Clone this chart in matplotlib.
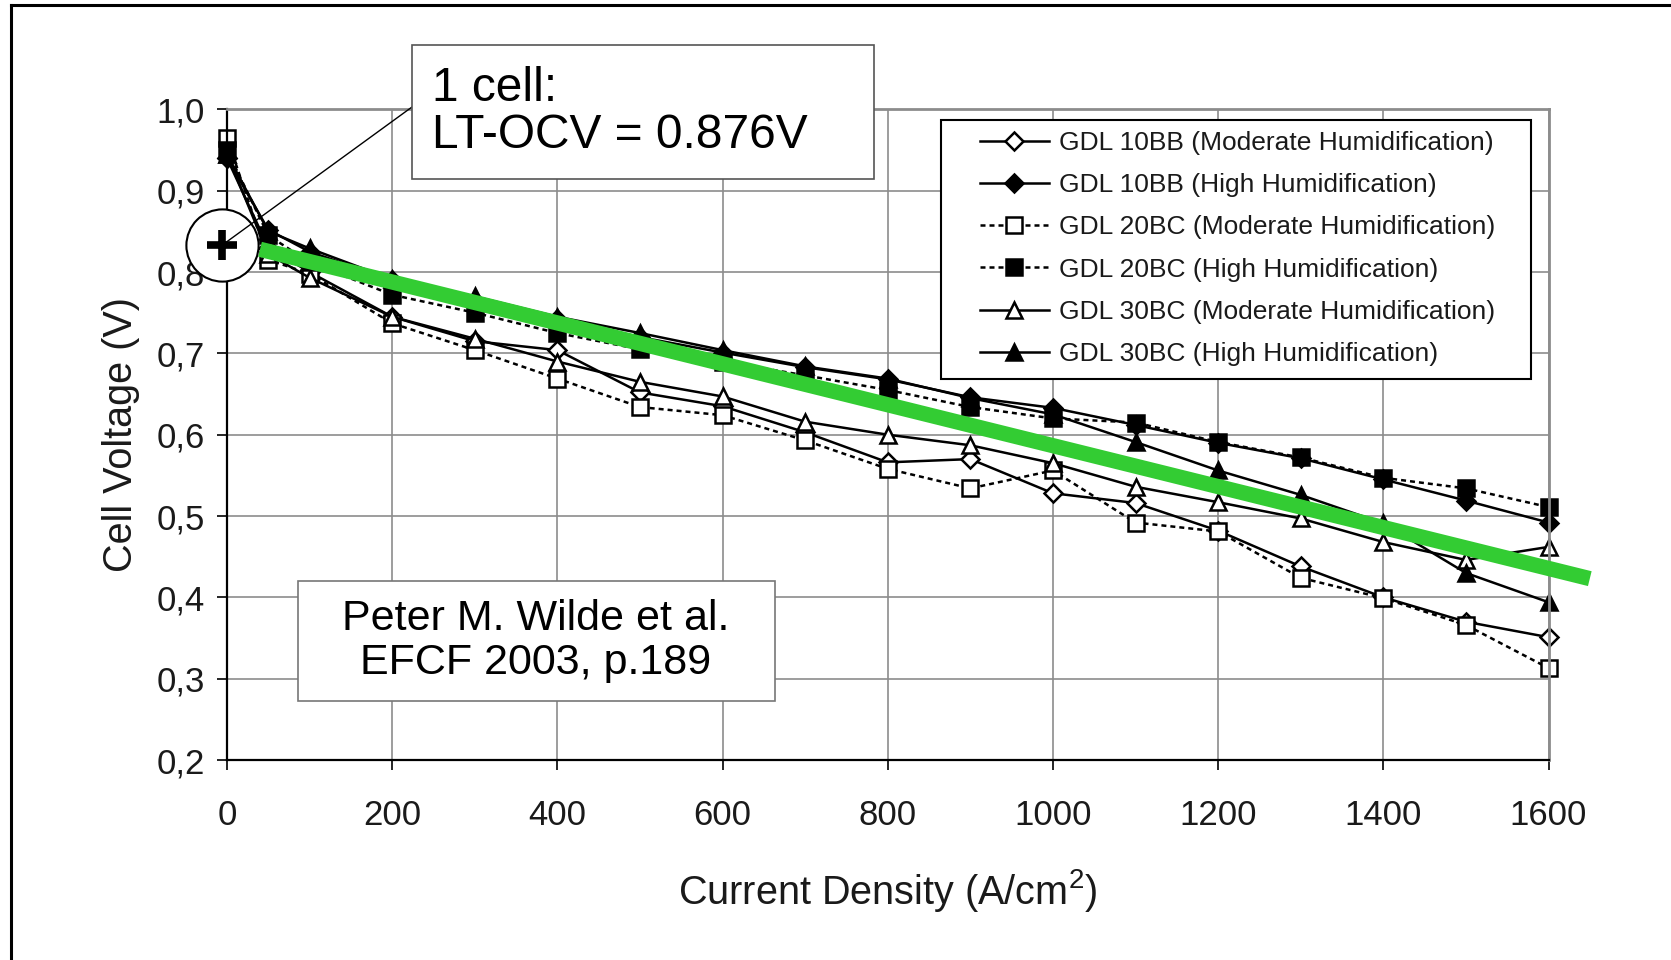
import matplotlib
matplotlib.use("Agg")
import matplotlib.pyplot as plt
from matplotlib.patches import Rectangle, ConnectionPatch
from matplotlib.lines import Line2D

plt.rcParams['font.family'] = ['Liberation Sans', 'DejaVu Sans']
plt.rcParams['mathtext.default'] = 'regular'

# ---------------- data ----------------
current = [0, 50, 100, 200, 300, 400, 500, 600, 700, 800, 900, 1000,
           1100, 1200, 1300, 1400, 1500, 1600]

gdl10bb_mod = [0.940, 0.830, 0.800, 0.745, 0.715, 0.704, 0.652, 0.635, 0.603, 0.566, 0.570, 0.528,
               0.516, 0.482, 0.438, 0.400, 0.370, 0.351]
gdl10bb_high = [0.940, 0.852, 0.825, 0.790, 0.765, 0.742, 0.720, 0.701, 0.683, 0.668, 0.646, 0.633,
                0.612, 0.590, 0.571, 0.545, 0.519, 0.492]
gdl20bc_mod = [0.965, 0.815, 0.798, 0.737, 0.704, 0.669, 0.634, 0.624, 0.593, 0.558, 0.534, 0.556,
               0.492, 0.481, 0.424, 0.399, 0.366, 0.313]
gdl20bc_high = [0.950, 0.845, 0.812, 0.772, 0.750, 0.725, 0.705, 0.690, 0.673, 0.655, 0.634, 0.620,
                0.615, 0.591, 0.572, 0.547, 0.534, 0.511]
gdl30bc_mod = [0.945, 0.822, 0.793, 0.745, 0.718, 0.690, 0.665, 0.647, 0.616, 0.600, 0.587, 0.565,
               0.536, 0.517, 0.497, 0.468, 0.446, 0.462]
gdl30bc_high = [0.945, 0.850, 0.829, 0.791, 0.770, 0.745, 0.725, 0.704, 0.684, 0.669, 0.645, 0.625,
                0.591, 0.556, 0.526, 0.491, 0.430, 0.394]

series_labels = ["GDL 10BB (Moderate Humidification)",
                 "GDL 10BB (High Humidification)",
                 "GDL 20BC (Moderate Humidification)",
                 "GDL 20BC (High Humidification)",
                 "GDL 30BC (Moderate Humidification)",
                 "GDL 30BC (High Humidification)"]

trend_x = [40, 1650]
trend_y = [0.828, 0.423]

ocv_point_x = [-6]
ocv_point_y = [0.833]

yticks = [0.2, 0.3, 0.4, 0.5, 0.6, 0.7, 0.8, 0.9, 1.0]
ytick_labels = ["0,2", "0,3", "0,4", "0,5", "0,6", "0,7", "0,8", "0,9", "1,0"]
xticks = [0, 200, 400, 600, 800, 1000, 1200, 1400, 1600]

# ---------------- figure ----------------
W, H = 1671, 960
fig = plt.figure(figsize=(W / 100, H / 100), dpi=100)
fig.patch.set_facecolor('white')

ax = fig.add_axes([227 / W, 1 - 760 / H, (1548.5 - 227) / W, (760 - 109.4) / H])
ax.set_xlim(0, 1600)
ax.set_ylim(0.2, 1.0)

grid_c = '#8c8c8c'
ax.set_xticks(xticks)
ax.set_yticks(yticks)
ax.set_yticklabels(ytick_labels)
ax.grid(True, color=grid_c, linewidth=1.2)
ax.set_axisbelow(True)
for s in ['top', 'right']:
    ax.spines[s].set_color(grid_c)
    ax.spines[s].set_linewidth(2.0)
for s in ['left', 'bottom']:
    ax.spines[s].set_color('black')
    ax.spines[s].set_linewidth(1.6)
ax.tick_params(axis='both', direction='out', length=7, width=1.2, colors='black',
               labelsize=25, labelcolor='#1a1a1a')
ax.tick_params(axis='y', pad=9)
ax.tick_params(axis='x', pad=21)

lw = 1.8
mk = dict(markeredgecolor='black', markeredgewidth=1.8, clip_on=False)
ax.plot(current, gdl10bb_mod, color='black', lw=lw, ls='-', marker='D', markersize=9,
        markerfacecolor='white', label=series_labels[0], **mk)
ax.plot(current, gdl10bb_high, color='black', lw=lw, ls='-', marker='D', markersize=9,
        markerfacecolor='black', label=series_labels[1], **mk)
ax.plot(current, gdl20bc_mod, color='black', lw=lw, ls=(0, (2, 1.6)), marker='s', markersize=11,
        markerfacecolor='white', label=series_labels[2], **mk)
ax.plot(current, gdl20bc_high, color='black', lw=lw, ls=(0, (2, 1.6)), marker='s', markersize=11,
        markerfacecolor='black', label=series_labels[3], **mk)
ax.plot(current, gdl30bc_mod, color='black', lw=lw, ls='-', marker='^', markersize=11,
        markerfacecolor='white', label=series_labels[4], **mk)
ax.plot(current, gdl30bc_high, color='black', lw=lw, ls='-', marker='^', markersize=11,
        markerfacecolor='black', label=series_labels[5], **mk)

# green trend line
ax.plot(trend_x, trend_y, color='#33cc33', lw=11, solid_capstyle='butt', clip_on=False, zorder=5)

# OCV circle with plus
ax.plot(ocv_point_x, ocv_point_y, marker='o', markersize=52, markerfacecolor='white',
        markeredgecolor='black', markeredgewidth=1.5, clip_on=False, zorder=6, ls='none')
ax.plot(ocv_point_x, ocv_point_y, marker='+', markersize=21, markeredgewidth=5.5,
        color='black', clip_on=False, zorder=7, ls='none')

ax.set_xlabel('Current Density (A/cm$^2$)', fontsize=28.5, color='#1a1a1a', labelpad=25)
ax.set_ylabel('Cell Voltage (V)', fontsize=28.5, color='#1a1a1a', labelpad=12)

# legend frame drawn as its own box, legend entries placed inside
legbox = Rectangle((941 / W, 1 - 379 / H), (1531 - 941) / W, (379 - 120) / H,
                   transform=fig.transFigure, facecolor='white', edgecolor='black',
                   linewidth=1.5, zorder=9)
fig.patches.append(legbox)
leg = ax.legend(loc='upper left', bbox_to_anchor=(980 / W, 1 - 131 / H),
                bbox_transform=fig.transFigure, fontsize=19, frameon=False,
                handlelength=2.6, labelspacing=0.69, borderpad=0.0,
                handletextpad=0.4, borderaxespad=0)
leg.set_zorder(12)
for t in leg.get_texts():
    t.set_color('#1a1a1a')
leg.remove()
fig.legends.append(leg)

# annotation box "1 cell"
box1 = Rectangle((412 / W, 1 - 179 / H), (874 - 412) / W, (179 - 45) / H,
                 transform=fig.transFigure, facecolor='white', edgecolor='#555555',
                 linewidth=1.2, zorder=10)
fig.patches.append(box1)
fig.text(432 / W, 1 - 112 / H, "1 cell:\nLT-OCV = 0.876V", fontsize=34.5, ha='left',
         va='center', linespacing=1.08, zorder=11, color='black')
con = ConnectionPatch(xyA=(412 / W, 1 - 107 / H), coordsA=fig.transFigure,
                      xyB=(ocv_point_x[0], ocv_point_y[0]), coordsB=ax.transData,
                      color='black', linewidth=1.0, zorder=8)
fig.add_artist(con)

# citation box
box2 = Rectangle((298 / W, 1 - 701 / H), (775 - 298) / W, (701 - 581) / H,
                 transform=fig.transFigure, facecolor='white', edgecolor='#777777',
                 linewidth=1.2, zorder=10)
fig.patches.append(box2)
fig.text(536 / W, 1 - 641 / H, "Peter M. Wilde et al.\nEFCF 2003, p.189", fontsize=31,
         ha='center', va='center', linespacing=1.1, zorder=11, color='black')

# figure frame (top and left)
fig.add_artist(Line2D([11 / W, 11 / W], [0, 1 - 5 / H], transform=fig.transFigure,
                      color='black', linewidth=2.2))
fig.add_artist(Line2D([11 / W, 1], [1 - 5 / H, 1 - 5 / H], transform=fig.transFigure,
                      color='black', linewidth=2.2))

fig.savefig('out.png', dpi=100, facecolor='white')
